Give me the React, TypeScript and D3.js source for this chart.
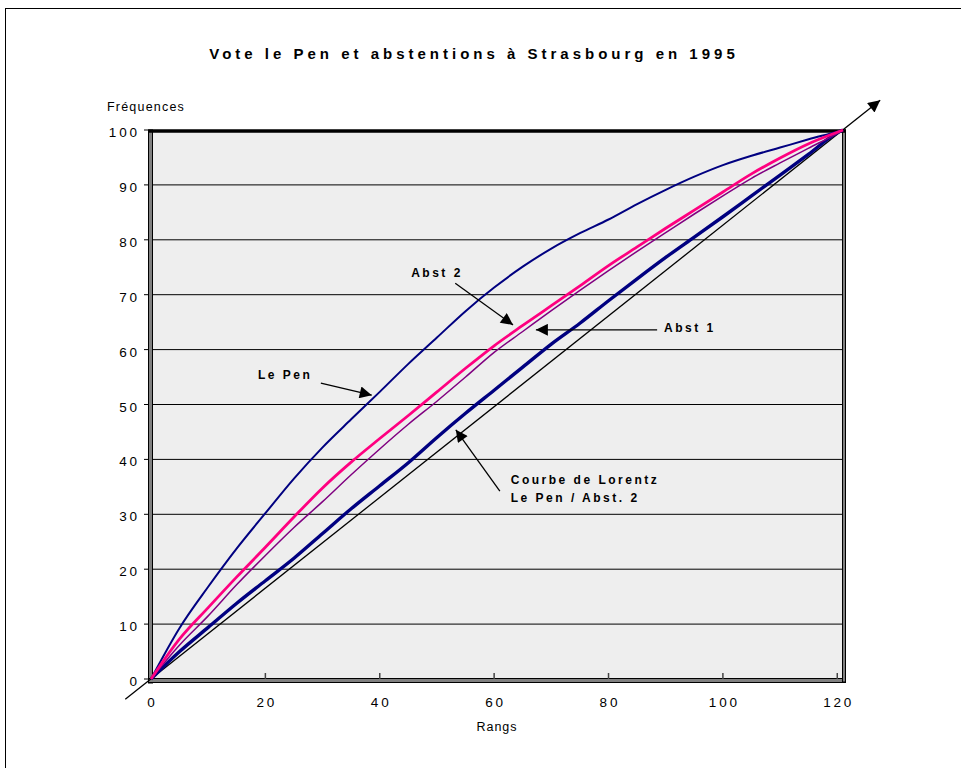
import { useEffect, useRef } from 'react'
import * as d3 from 'd3'

const ranks = [0, 5, 10, 15, 20, 25, 30, 35, 40, 45, 50, 55, 60, 65, 70, 75, 80, 85, 90, 95, 100, 105, 110, 115, 120, 121]
const lePen = [0, 9.3, 16.8, 23.8, 30.2, 36.5, 42.2, 47.3, 52.3, 57.4, 62.2, 67, 71.3, 75.1, 78.4, 81.2, 83.7, 86.5, 89.1, 91.5, 93.6, 95.3, 96.8, 98.3, 99.7, 100]
const abst2 = [0, 7.3, 13, 18.6, 24, 29.5, 34.8, 39.5, 43.8, 48, 52.3, 56.6, 60.7, 64.4, 68, 71.6, 75.3, 78.7, 82.1, 85.4, 88.7, 92, 94.9, 97.5, 99.6, 100]
const abst1 = [0, 6.2, 11.5, 17.2, 22.5, 27.6, 32.3, 37.2, 41.9, 46.4, 50.6, 55, 59.5, 63.3, 67.1, 70.8, 74.4, 77.9, 81.3, 84.7, 88, 91.2, 94, 96.7, 99.4, 100]
const lorentz = [0, 5, 9.4, 13.8, 17.9, 22, 26.5, 31, 35.2, 39.4, 44, 48.4, 52.6, 56.8, 61, 64.8, 68.9, 72.9, 76.8, 80.5, 84.2, 88, 91.8, 95.6, 99.5, 100]

const xTicks = [0, 20, 40, 60, 80, 100, 120]
const yTicks = [0, 10, 20, 30, 40, 50, 60, 70, 80, 90, 100]
const gridValues = [10, 20, 30, 40, 50, 60, 70, 80, 90]

// droite d'équirépartition prolongée (en unités des données)
const equality = [[-4.5, -3.7], [127.5, 105.4]]

const notes = [
  { lines: ['Abst 2'], at: [45.5, 73.2], from: [53.2, 72.1], to: [63.3, 64.5] },
  { lines: ['Abst 1'], at: [89.7, 63.2], from: [88.5, 63.6], to: [67.3, 63.6] },
  { lines: ['Le Pen'], at: [18.7, 54.6], from: [29.7, 53.9], to: [38.6, 51.7] },
  { lines: ['Courbe de Lorentz', 'Le Pen / Abst. 2'], at: [62.9, 35.5], from: [61.0, 34.2], to: [53.3, 45.4] },
]

const series = [
  { values: lorentz, color: '#000080', width: 3.4 },
  { values: lePen, color: '#000080', width: 2 },
  { values: abst1, color: '#800080', width: 1.5 },
  { values: abst2, color: '#FF0080', width: 2.8 },
]

export default function App() {
  const ref = useRef<SVGSVGElement>(null)

  useEffect(() => {
    const svg = d3.select(ref.current)
    svg.selectAll('*').remove()
    const font = '"Liberation Sans", Arial, sans-serif'

    const left = 151, right = 843, top = 130, bottom = 679
    const x = d3.scaleLinear().domain([0, 121]).range([left, right])
    const y = d3.scaleLinear().domain([0, 100]).range([bottom, top])

    svg.append('rect').attr('x', 5.5).attr('y', 8.5).attr('width', 980).attr('height', 800)
      .attr('fill', '#fff').attr('stroke', '#000').attr('stroke-width', 1)

    const defs = svg.append('defs')
    defs.append('marker').attr('id', 'head')
      .attr('viewBox', '0 0 10 10').attr('refX', 10).attr('refY', 5)
      .attr('markerWidth', 17).attr('markerHeight', 12).attr('markerUnits', 'userSpaceOnUse')
      .attr('orient', 'auto')
      .append('path').attr('d', 'M0,0L10,5L0,10Z').attr('fill', '#000')

    svg.append('text').attr('x', 474).attr('y', 59).attr('text-anchor', 'middle')
      .attr('font-family', font).attr('font-size', 15).attr('font-weight', 700)
      .attr('letter-spacing', 4).text('Vote le Pen et abstentions à Strasbourg en 1995')

    // zone de traçage
    svg.append('rect').attr('x', left).attr('y', top).attr('width', right - left).attr('height', bottom - top)
      .attr('fill', '#eeeeee')

    svg.append('g').selectAll('line').data(gridValues).enter().append('line')
      .attr('x1', left).attr('x2', right).attr('y1', (d) => y(d)).attr('y2', (d) => y(d))
      .attr('stroke', '#000').attr('stroke-width', 1)

    // murs de l'axe
    svg.append('rect').attr('x', left - 2.5).attr('y', top).attr('width', 4).attr('height', bottom - top + 4)
      .attr('fill', '#808080').attr('stroke', '#000').attr('stroke-width', 1)
    svg.append('rect').attr('x', left - 2.5).attr('y', bottom - 0.5).attr('width', right - left + 5).attr('height', 4)
      .attr('fill', '#808080').attr('stroke', '#000').attr('stroke-width', 1)
    svg.append('rect').attr('x', right - 0.5).attr('y', top).attr('width', 3).attr('height', bottom - top + 3)
      .attr('fill', '#808080').attr('stroke', '#000').attr('stroke-width', 1)
    svg.append('line').attr('x1', left - 2.5).attr('x2', right + 3).attr('y1', top + 1).attr('y2', top + 1)
      .attr('stroke', '#000').attr('stroke-width', 3.5)

    // graduations
    svg.append('g').selectAll('line').data(yTicks).enter().append('line')
      .attr('x1', left - 7).attr('x2', left - 2).attr('y1', (d) => y(d)).attr('y2', (d) => y(d))
      .attr('stroke', '#000')
    svg.append('g').selectAll('line').data(xTicks.slice(1)).enter().append('line')
      .attr('x1', (d) => x(d)).attr('x2', (d) => x(d)).attr('y1', bottom - 6).attr('y2', bottom)
      .attr('stroke', '#444').attr('stroke-width', 1.5)

    svg.append('g').selectAll('text').data(yTicks).enter().append('text')
      .attr('x', 137 + 2.8).attr('y', (d) => y(d) + 7).attr('text-anchor', 'end')
      .attr('font-family', font).attr('font-size', 13.5).attr('letter-spacing', 2.8)
      .text((d) => d)
    svg.append('g').selectAll('text').data(xTicks).enter().append('text')
      .attr('x', (d) => x(d) + 1.4).attr('y', 707).attr('text-anchor', 'middle')
      .attr('font-family', font).attr('font-size', 13.5).attr('letter-spacing', 2.8)
      .text((d) => d)

    svg.append('text').attr('x', 107).attr('y', 111).attr('font-family', font).attr('font-size', 12.5)
      .attr('letter-spacing', 1.2).text('Fréquences')
    svg.append('text').attr('x', 497).attr('y', 731).attr('text-anchor', 'middle')
      .attr('font-family', font).attr('font-size', 12.5).attr('letter-spacing', 1).text('Rangs')

    // droite d'égalité avec flèche
    svg.append('line')
      .attr('x1', x(equality[0][0])).attr('y1', y(equality[0][1]))
      .attr('x2', x(equality[1][0])).attr('y2', y(equality[1][1]))
      .attr('stroke', '#000').attr('stroke-width', 1.3).attr('marker-end', 'url(#head)')

    const line = d3.line<number>().x((_, i) => x(ranks[i])).y((d) => y(d)).curve(d3.curveMonotoneX)
    svg.append('g').selectAll('path').data(series).enter().append('path')
      .attr('d', (s) => line(s.values))
      .attr('fill', 'none').attr('stroke', (s) => s.color).attr('stroke-width', (s) => s.width)
      .attr('stroke-linejoin', 'round')

    const ann = svg.append('g').selectAll('g').data(notes).enter().append('g')
    ann.append('line')
      .attr('x1', (d) => x(d.from[0])).attr('y1', (d) => y(d.from[1]))
      .attr('x2', (d) => x(d.to[0])).attr('y2', (d) => y(d.to[1]))
      .attr('stroke', '#000').attr('stroke-width', 1.3).attr('marker-end', 'url(#head)')
    ann.each(function (d) {
      const g = d3.select(this)
      d.lines.forEach((t, i) => {
        g.append('text').attr('x', x(d.at[0])).attr('y', y(d.at[1]) + i * 18)
          .attr('font-family', font).attr('font-size', 12).attr('font-weight', 700)
          .attr('letter-spacing', 2.5).text(t)
      })
    })
  }, [])

  return (
    <svg ref={ref} width={961} height={768}
      style={{ position: 'absolute', left: 0, top: 0, display: 'block' }} />
  )
}
